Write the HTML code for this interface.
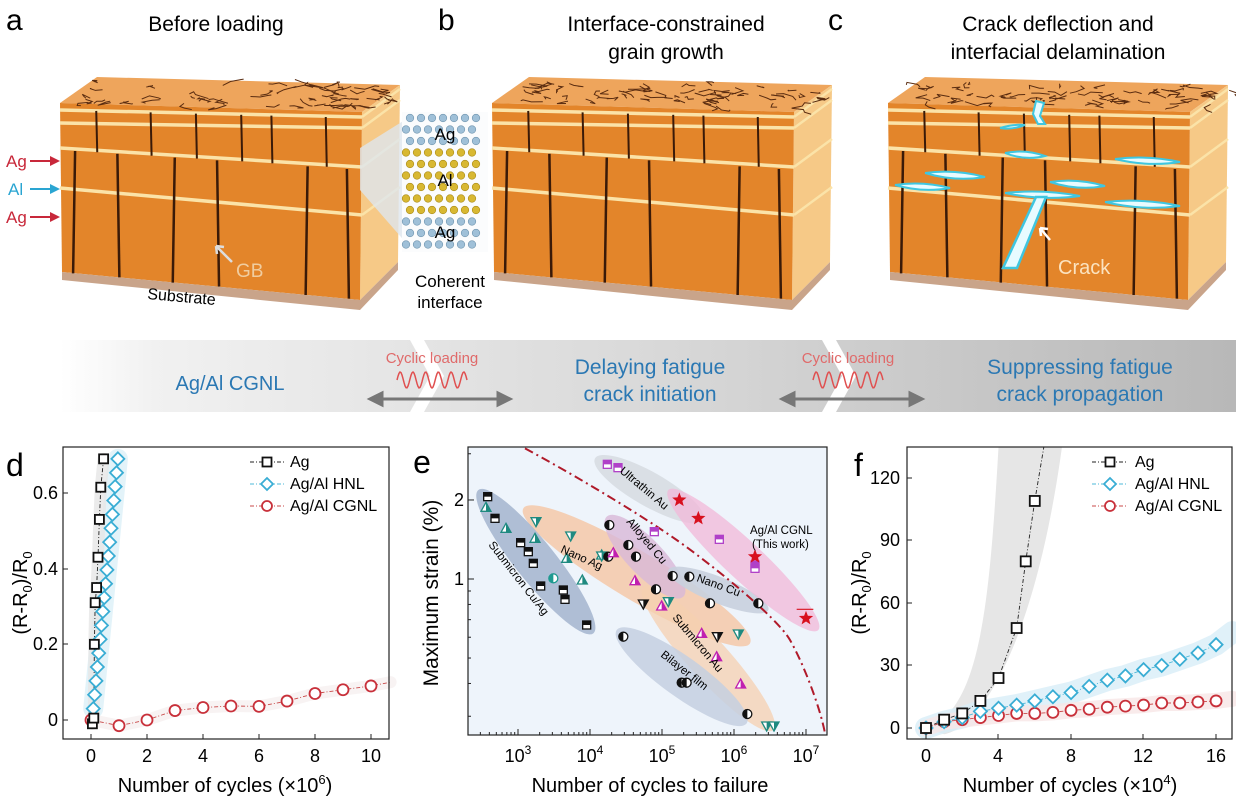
<!DOCTYPE html>
<html><head><meta charset="utf-8">
<style>
html,body{margin:0;padding:0;background:#fff;}
svg{display:block;font-family:"Liberation Sans",Arial,sans-serif;}
</style></head>
<body>
<svg id="s" width="1236" height="800" viewBox="0 0 1236 800" xmlns="http://www.w3.org/2000/svg">
<defs>
<linearGradient id="band" x1="0" x2="1" y1="0" y2="0">
<stop offset="0" stop-color="#ffffff"/><stop offset="0.08" stop-color="#f1f1f1"/><stop offset="0.5" stop-color="#d9d9d9"/><stop offset="1" stop-color="#b8b8b8"/>
</linearGradient>
</defs>
<g id="blocks"></g>

<!-- band -->
<rect x="60" y="340" width="1176" height="72" fill="url(#band)"/>
<polygon points="410,340 424,340 444,376 424,412 410,412 430,376" fill="#fff"/>
<polygon points="822,340 836,340 856,376 836,412 822,412 842,376" fill="#fff"/>
<text x="230" y="390" font-size="20" fill="#2b78b3" text-anchor="middle">Ag/Al CGNL</text>
<text x="432" y="363" font-size="15" fill="#e06a6a" text-anchor="middle">Cyclic loading</text>
<text x="848" y="363" font-size="15" fill="#e06a6a" text-anchor="middle">Cyclic loading</text>
<path id="w1" d="" stroke="#e05050" stroke-width="1.5" fill="none"/>
<path id="w2" d="" stroke="#e05050" stroke-width="1.5" fill="none"/>
<g stroke="#777" stroke-width="3" fill="#777">
<line x1="378" y1="399" x2="502" y2="399"/><polygon points="370,399 382,393 382,405"/><polygon points="510,399 498,393 498,405"/>
<line x1="790" y1="399" x2="914" y2="399"/><polygon points="782,399 794,393 794,405"/><polygon points="922,399 910,393 910,405"/>
</g>
<text x="650" y="374" font-size="21" fill="#2b78b3" text-anchor="middle">Delaying fatigue</text>
<text x="650" y="401" font-size="21" fill="#2b78b3" text-anchor="middle">crack initiation</text>
<text x="1080" y="374" font-size="21" fill="#2b78b3" text-anchor="middle">Suppressing fatigue</text>
<text x="1080" y="401" font-size="21" fill="#2b78b3" text-anchor="middle">crack propagation</text>

<!-- top titles -->
<text x="6" y="30" font-size="30">a</text>
<text x="216" y="31" font-size="21" text-anchor="middle">Before loading</text>
<text x="438" y="30" font-size="30">b</text>
<text x="666" y="31" font-size="21" text-anchor="middle">Interface-constrained</text>
<text x="666" y="59" font-size="21" text-anchor="middle">grain growth</text>
<text x="828" y="30" font-size="30">c</text>
<text x="1058" y="31" font-size="21" text-anchor="middle">Crack deflection and</text>
<text x="1058" y="59" font-size="21" text-anchor="middle">interfacial delamination</text>

<text x="6" y="167" font-size="17" fill="#c8283a">Ag</text>
<text x="8" y="195" font-size="17" fill="#2aa5d2">Al</text>
<text x="6" y="223" font-size="17" fill="#c8283a">Ag</text>
<g stroke-width="2">
<line x1="30" y1="161" x2="52" y2="161" stroke="#c8283a"/><polygon points="60,161 50,156 50,166" fill="#c8283a"/>
<line x1="30" y1="189" x2="52" y2="189" stroke="#2aa5d2"/><polygon points="60,189 50,184 50,194" fill="#2aa5d2"/>
<line x1="30" y1="217" x2="52" y2="217" stroke="#c8283a"/><polygon points="60,217 50,212 50,222" fill="#c8283a"/>
</g>
<polygon points="360,148 408,118 408,245 360,190" fill="#dfe6ee" opacity="0.8"/>
<rect x="402" y="112" width="86" height="140" fill="#fbfcfd"/>
<g id="lat"></g>
<text x="445" y="140" font-size="17" text-anchor="middle">Ag</text>
<text x="445" y="186" font-size="17" text-anchor="middle">Al</text>
<text x="445" y="238" font-size="17" text-anchor="middle">Ag</text>
<text x="450" y="287" font-size="17" text-anchor="middle">Coherent</text>
<text x="450" y="308" font-size="17" text-anchor="middle">interface</text>
<text x="147" y="299" font-size="16" transform="rotate(5 147 299)">Substrate</text>
<text x="236" y="277" font-size="19" fill="#f0cda0">GB</text>
<path d="M232,262 L216,246 M216,246 l8,1 M216,246 l1,8" stroke="#ddd" stroke-width="2.5" fill="none"/>

<g id="crk"></g>

<!-- ===== panel d ===== -->
<text x="6" y="476" font-size="32">d</text>
<g id="pd"></g>
<rect x="63" y="447" width="326" height="292" fill="none" stroke="#222" stroke-width="1.2"/>
<g font-size="18" text-anchor="end">
<text x="58" y="726">0</text><text x="58" y="650">0.2</text><text x="58" y="575">0.4</text><text x="58" y="499">0.6</text>
</g>
<g font-size="18" text-anchor="middle">
<text x="91" y="762">0</text><text x="147" y="762">2</text><text x="203" y="762">4</text><text x="259" y="762">6</text><text x="315" y="762">8</text><text x="371" y="762">10</text>
</g>
<text x="225" y="792" font-size="20" text-anchor="middle">Number of cycles (×10<tspan dy="-8" font-size="13">6</tspan><tspan dy="8">)</tspan></text>
<text transform="translate(27 593) rotate(-90)" font-size="20" text-anchor="middle">(R-R<tspan dy="5" font-size="13">0</tspan><tspan dy="-5">)/R</tspan><tspan dy="5" font-size="13">0</tspan></text>
<g font-size="16">
<text x="290" y="467">Ag</text><text x="290" y="489">Ag/Al HNL</text><text x="290" y="511">Ag/Al CGNL</text>
</g>

<!-- ===== panel e ===== -->
<rect x="468" y="447" width="359" height="288" fill="#eef4fb"/>
<g id="pe"></g>
<rect x="468" y="447" width="359" height="288" fill="none" stroke="#222" stroke-width="1.2"/>
<g font-size="18" text-anchor="end"><text x="464" y="506">2</text><text x="464" y="585">1</text></g>
<g font-size="18" text-anchor="middle">
<text x="518" y="762">10<tspan dy="-8" font-size="12">3</tspan></text>
<text x="590" y="762">10<tspan dy="-8" font-size="12">4</tspan></text>
<text x="662" y="762">10<tspan dy="-8" font-size="12">5</tspan></text>
<text x="734" y="762">10<tspan dy="-8" font-size="12">6</tspan></text>
<text x="806" y="762">10<tspan dy="-8" font-size="12">7</tspan></text>
</g>
<text x="650" y="792" font-size="20" text-anchor="middle">Number of cycles to failure</text>
<text transform="translate(438 593) rotate(-90)" font-size="21" text-anchor="middle">Maximum strain (%)</text>
<text x="422" y="473" font-size="32" text-anchor="middle">e</text>
<g font-size="11.5">
<text transform="translate(619 472) rotate(40)">Ultrathin Au</text>
<text x="750" y="534">Ag/Al CGNL</text><text x="752" y="548">(This work)</text>
<text transform="translate(488 545) rotate(52)">Submicron Cu/Ag</text>
<text transform="translate(560 552) rotate(24)">Nano Ag</text>
<text transform="translate(626 522) rotate(50)">Alloyed Cu</text>
<text transform="translate(696 581) rotate(20)">Nano Cu</text>
<text transform="translate(672 618) rotate(50)">Submicron Au</text>
<text transform="translate(660 656) rotate(38)">Bilayer film</text>
</g>

<!-- ===== panel f ===== -->
<text x="854" y="476" font-size="32">f</text>
<g id="pf"></g>
<rect x="907" y="447" width="325" height="292" fill="none" stroke="#222" stroke-width="1.2"/>
<g font-size="18" text-anchor="end">
<text x="900" y="734">0</text><text x="900" y="671">30</text><text x="900" y="609">60</text><text x="900" y="546">90</text><text x="900" y="484">120</text>
</g>
<g font-size="18" text-anchor="middle">
<text x="926" y="762">0</text><text x="998" y="762">4</text><text x="1071" y="762">8</text><text x="1143" y="762">12</text><text x="1216" y="762">16</text>
</g>
<text x="1070" y="792" font-size="20" text-anchor="middle">Number of cycles (×10<tspan dy="-8" font-size="13">4</tspan><tspan dy="8">)</tspan></text>
<text transform="translate(866 593) rotate(-90)" font-size="20" text-anchor="middle">(R-R<tspan dy="5" font-size="13">0</tspan><tspan dy="-5">)/R</tspan><tspan dy="5" font-size="13">0</tspan></text>
<g font-size="16">
<text x="1135" y="467">Ag</text><text x="1135" y="489">Ag/Al HNL</text><text x="1135" y="511">Ag/Al CGNL</text>
</g>
</svg>
<script>
const NS="http://www.w3.org/2000/svg";
function el(p,t,a){const e=document.createElementNS(NS,t);for(const k in a)e.setAttribute(k,a[k]);document.getElementById(p).appendChild(e);return e;}
let seed=7;function rnd(){seed=(seed*16807)%2147483647;return seed/2147483647;}
function block(ox,w){
 const L=60+ox,R=L+w;
 el("blocks","polygon",{points:`${L},103 ${L+37},77 ${R+38},85 ${R},112`,fill:"#eea55c"});
 el("blocks","polygon",{points:`${R},112 ${R+38},85 ${R+36},262 ${R-2},300`,fill:"#f6c987"});
 el("blocks","polygon",{points:`${L},103 ${R},112 ${R-2},300 ${L+2},272`,fill:"#e3852a"});
 el("blocks","polygon",{points:`${L+2},272 ${R-2},300 ${R+36},262 ${R+36},270 ${R-2},310 ${L+2},280`,fill:"#c9a48a"});
 const ls=[[110,117],[123,128],[148,167],[188,215]];
 for(const [a,b] of ls){el("blocks","line",{x1:L,y1:a,x2:R,y2:b,stroke:"#fbe3a8","stroke-width":3.5});
  el("blocks","line",{x1:R,y1:b,x2:R+38,y2:b-28,stroke:"#fbe3a8","stroke-width":2.5});}
 const gx=[0.05,0.19,0.38,0.52,0.82,0.95];
 gx.forEach((f,i)=>{const x=L+f*w;el("blocks","line",{x1:x,y1:150+f*20,x2:x+(i%2?2:-2),y2:272+f*28,stroke:"#3a1a08","stroke-width":2.5});});
 const gx2=[0.12,0.3,0.45,0.6,0.7,0.88];
 gx2.forEach(f=>{const x=L+f*w;el("blocks","line",{x1:x,y1:110+f*8,x2:x+1,y2:150+f*19,stroke:"#3a1a08","stroke-width":2});});
 for(let i=0;i<60;i++){const u=rnd(),v=rnd();const x=L+10+u*(w+10)+v*30,y=103-v*22+u*6;
  el("blocks","path",{d:`M${x},${y} l${(rnd()-0.5)*26},${(rnd()-0.5)*8} l${(rnd()-0.5)*22},${(rnd()-0.5)*7} l${(rnd()-0.5)*16},${(rnd()-0.5)*5}`,stroke:"#5a2c10","stroke-width":1,fill:"none"});}
}
block(0,302);block(432,302);block(828,302);
for(let r=0;r<12;r++){const y=118+r*11.5;const ag=r<3||r>8;
 for(let c=0;c<7;c++){const x=410+c*11+(r%2?-4:0);
  el("lat","circle",{cx:x,cy:y,r:3.8,fill:ag?"#9fc0d8":"#d8b832",stroke:ag?"#6e93ad":"#a88a18","stroke-width":0.6});}}
function wave(id,x0){let d=`M${x0},380`;for(let i=0;i<=70;i++){const x=x0+i;d+=` L${x},${380-8*Math.sin(i/70*2*Math.PI*5.5)}`;}document.getElementById(id).setAttribute("d",d);}
wave("w1",397);wave("w2",813);
const cr=[[1000,128,1025,125],[1005,153,1045,156],[1115,159,1180,162],[925,173,985,177],[1050,182,1105,186],[895,185,950,188],[1005,193,1080,196],[1105,202,1180,206]];
cr.forEach(c=>{el("crk","path",{d:`M${c[0]},${c[1]} Q${(c[0]+c[2])/2},${c[1]-4} ${c[2]},${c[3]} Q${(c[0]+c[2])/2},${c[3]+5} ${c[0]},${c[1]}`,fill:"#e8fbff",stroke:"#3fc6e0","stroke-width":2});});
el("crk","path",{d:"M1036,101 L1044,103 L1040,116 L1045,124 L1038,124 L1033,114 Z",fill:"#e8fbff",stroke:"#3fc6e0","stroke-width":2});
el("crk","path",{d:"M1036,197 L1046,197 L1017,268 L1003,268 Z",fill:"#e8fbff",stroke:"#3fc6e0","stroke-width":2.5});
el("crk","path",{d:"M1050,240 L1040,228 M1040,228 l1,8 M1040,228 l8,1",stroke:"#fff","stroke-width":2.5,fill:"none"});
const ct=el("crk","text",{x:1058,y:274,"font-size":20,fill:"#fbe3c0"});ct.textContent="Crack";

function sq(g,x,y,s,col){el(g,"rect",{x:x-s,y:y-s,width:2*s,height:2*s,fill:"#fff",stroke:col,"stroke-width":1.8});}
function di(g,x,y,s,col){el(g,"polygon",{points:`${x},${y-s} ${x+s},${y} ${x},${y+s} ${x-s},${y}`,fill:"#fff",stroke:col,"stroke-width":1.8});}
function ci(g,x,y,s,col){el(g,"circle",{cx:x,cy:y,r:s,fill:"#fff",stroke:col,"stroke-width":1.8});}
function pl(g,pts,col,dash){el(g,"polyline",{points:pts.map(p=>p.join(",")).join(" "),fill:"none",stroke:col,"stroke-width":0.9,"stroke-dasharray":dash||"4,2,1,2"});}
function band(g,pts,wd,col,op){el(g,"polyline",{points:pts.map(p=>p.join(",")).join(" "),fill:"none",stroke:col,"stroke-width":wd,"stroke-linecap":"round","stroke-linejoin":"round",opacity:op});}
const dx=v=>91+v*28, dy=v=>720-v*378.5;
const dAg=[[0.05,-0.01],[0.1,0.005],[0.12,0.2],[0.15,0.31],[0.2,0.35],[0.25,0.43],[0.3,0.53],[0.35,0.615],[0.45,0.69]].map(p=>[dx(p[0]),dy(p[1])]);
const dH=[];for(let i=0;i<19;i++){const t=i/18;dH.push([dx(0.08+t*0.88),dy(0.03+t*0.66)]);}
const dC=[[0,0],[1,-0.015],[2,0],[3,0.025],[4,0.033],[5,0.037],[6,0.036],[7,0.05],[8,0.07],[9,0.08],[10,0.09],[10.7,0.1]].map(p=>[dx(p[0]),dy(p[1])]);
band("pd",dH,20,"#dcf0f8",0.8);band("pd",dAg,12,"#e6e6e6",0.8);band("pd",dC,12,"#f6f0f0",0.8);
pl("pd",dAg,"#222");pl("pd",dH,"#4cb8d8");pl("pd",dC,"#c84848");
dC.slice(0,11).forEach(p=>ci("pd",p[0],p[1],5.5,"#c8303a"));
dH.forEach(p=>di("pd",p[0],p[1],6.5,"#39add4"));
dAg.forEach(p=>sq("pd",p[0],p[1],4.5,"#111"));
pl("pd",[[250,462],[285,462]],"#222");sq("pd",267,462,4.5,"#111");
pl("pd",[[250,484],[285,484]],"#4cb8d8");di("pd",267,484,6,"#39add4");
pl("pd",[[250,506],[285,506]],"#c84848");ci("pd",267,506,5,"#c8303a");
[91,147,203,259,315,371].forEach(x=>el("pd","line",{x1:x,y1:739,x2:x,y2:734,stroke:"#222"}));
[720,644,569,493].forEach(y=>el("pd","line",{x1:63,y1:y,x2:68,y2:y,stroke:"#222"}));
const Z=(zx,zy)=>[410+zx/3,430+zy/3];
function ell(a,b,wd,col,op){const p=Z(a[0],a[1]),q=Z(b[0],b[1]);const cx=(p[0]+q[0])/2,cy=(p[1]+q[1])/2;const L=Math.hypot(q[0]-p[0],q[1]-p[1])/2;const ang=Math.atan2(q[1]-p[1],q[0]-p[0])*180/Math.PI;
 el("pe","ellipse",{cx,cy,rx:L,ry:wd/2,fill:col,opacity:op,transform:`rotate(${ang} ${cx} ${cy})`});}
ell([555,85],[880,270],34,"#d5d9e0",0.8);
ell([340,235],[1020,640],48,"#f5c8a8",0.85);
ell([700,470],[1090,900],40,"#f6d0b0",0.75);
ell([205,180],[550,610],40,"#9fb0cc",0.8);
ell([590,260],[820,500],36,"#d8b8d8",0.8);
ell([775,420],[1075,540],26,"#c8d0de",0.9);
ell([620,600],[1010,880],40,"#c4cfe0",0.85);
ell([775,180],[1225,600],38,"#f2b8d8",0.75);
const cv=[[345,55],[600,200],[800,330],[1000,480],[1140,630],[1210,770],[1245,910]].map(p=>Z(p[0],p[1]));
el("pe","path",{d:"M"+cv[0]+" C"+Z(520,150)+" "+Z(700,260)+" "+cv[2]+" S"+Z(1100,560)+" "+cv[4]+" S"+Z(1230,830)+" "+cv[6],fill:"none",stroke:"#b01a2a","stroke-width":2,"stroke-dasharray":"9,4,2,4"});
function hs(zx,zy){const [x,y]=Z(zx,zy);el("pe","rect",{x:x-4,y:y-4,width:8,height:8,fill:"#fff",stroke:"#111","stroke-width":1.3});el("pe","rect",{x:x-4,y:y-4,width:8,height:4,fill:"#111"});}
function tri(zx,zy,col,down,fill){const [x,y]=Z(zx,zy);const s=down?-1:1;el("pe","polygon",{points:`${x},${y-5*s} ${x+5},${y+4*s} ${x-5},${y+4*s}`,fill:fill||"#fff",stroke:col,"stroke-width":1.3});el("pe","polygon",{points:`${x},${y-5*s} ${x+5},${y+4*s} ${x},${y+4*s}`,fill:col});}
function hc(zx,zy,col){const [x,y]=Z(zx,zy);el("pe","circle",{cx:x,cy:y,r:4.5,fill:"#fff",stroke:col,"stroke-width":1.3});el("pe","path",{d:`M${x},${y-4.5} A4.5,4.5 0 0 0 ${x},${y+4.5}Z`,fill:col});}
function ps(zx,zy){const [x,y]=Z(zx,zy);el("pe","rect",{x:x-4,y:y-4,width:8,height:8,fill:"#fff",stroke:"#b040c8","stroke-width":1.3});el("pe","rect",{x:x-4,y:y-4,width:8,height:4,fill:"#b040c8"});}
function star(zx,zy){const [x,y]=Z(zx,zy);let d="";for(let i=0;i<10;i++){const r=i%2?3.2:7.5,a=-Math.PI/2+i*Math.PI/5;d+=(i?"L":"M")+(x+r*Math.cos(a))+","+(y+r*Math.sin(a));}el("pe","path",{d:d+"Z",fill:"#d8101e"});}
[[233,200],[255,265],[332,338],[355,365],[370,400],[392,468],[460,480],[465,508],[530,585]].forEach(p=>hs(...p));
[[228,232],[288,295],[375,325],[470,385],[517,450],[575,375]].forEach(p=>tri(...p,"#1f8a80"));
hc(430,445,"#1f9a90");
[[378,275],[482,318],[575,378],[775,515],[985,612],[1070,888],[1092,888]].forEach(p=>tri(...p,"#1f8a80",true));
[[598,285],[655,345],[678,380],[595,380],[738,478],[838,440],[1045,520]].forEach(p=>hc(...p,"#111"));
[[700,522],[922,620]].forEach(p=>tri(...p,"#111",true));
[[610,368],[675,452],[755,528],[875,610],[920,680],[992,762]].forEach(p=>tri(...p,"#c020b0"));
[[592,103],[624,113],[733,305],[928,328],[1035,405],[1035,415]].forEach(p=>ps(...p));
[[788,438],[900,520],[1012,852],[640,620],[815,758],[830,758]].forEach(p=>hc(...p,"#111"));
[[808,210],[865,265],[1035,380],[1188,565]].forEach(p=>star(...p));
el("pe","line",{x1:Z(1160,538)[0],y1:Z(0,538)[1],x2:Z(1210,538)[0],y2:Z(0,538)[1],stroke:"#d8101e","stroke-width":1.2});
for(let d=2;d<=7;d++)for(let m=1;m<10;m++){const v=d+Math.log10(m);const x=518+(v-3)*72;if(x<468||x>827)continue;el("pe","line",{x1:x,y1:735,x2:x,y2:m==1?729:732,stroke:"#222"});}
[0.3,0.4,0.5,0.6,0.7,0.8,0.9,1,2,3].forEach(v=>{const y=579-Math.log10(v)*262.5;el("pe","line",{x1:468,y1:y,x2:(v==1||v==2)?474:471,y2:y,stroke:"#222"});});
const fx=v=>926+v*18.13, fy=v=>728-v*2.083;
const fA=[[0,0],[1,4],[2,7],[3,13],[4,24],[5,48],[5.5,80],[6,109]].map(p=>[fx(p[0]),fy(p[1])]);
const hv=[0,3,5,8,9.5,11,13,15,17,20,23,25,28,30,33,36,40],cvv=[0,3,4,5,6,7,7,7.5,8.5,9,10,10.5,11,12,12,12.5,13];
const fH=hv.map((v,i)=>[fx(i),fy(v)]),fC=cvv.map((v,i)=>[fx(i),fy(v)]);
el("pf","path",{d:`M${fx(0)},${fy(0)} C${fx(3)},${fy(8)} ${fx(3.5)},${fy(60)} ${fx(4)},447 L${fx(7.5)},447 C${fx(6)},${fy(40)} ${fx(3)},${fy(0)} ${fx(1)},${fy(-3)} Z`,fill:"#e6e6e6"});
band("pf",fH.concat([[fx(16.9),fy(46)]]),22,"#d8eef8",0.8);band("pf",fC.concat([[fx(16.9),fy(14)]]),16,"#f8e6e6",0.8);
pl("pf",fA.concat([[fx(6.5),447]]),"#222");pl("pf",fH,"#4cb8d8");pl("pf",fC,"#c84848");
fC.forEach(p=>ci("pf",p[0],p[1],5.5,"#c8303a"));
fH.forEach(p=>di("pf",p[0],p[1],6.5,"#39add4"));
fA.forEach(p=>sq("pf",p[0],p[1],5,"#111"));
pl("pf",[[1092,462],[1128,462]],"#222");sq("pf",1110,462,4.5,"#111");
pl("pf",[[1092,484],[1128,484]],"#4cb8d8");di("pf",1110,484,6,"#39add4");
pl("pf",[[1092,506],[1128,506]],"#c84848");ci("pf",1110,506,5,"#c8303a");
[926,998,1071,1143,1216].forEach(x=>el("pf","line",{x1:x,y1:739,x2:x,y2:734,stroke:"#222"}));
[728,665,603,540,478].forEach(y=>el("pf","line",{x1:907,y1:y,x2:912,y2:y,stroke:"#222"}));
</script>
</body></html>
